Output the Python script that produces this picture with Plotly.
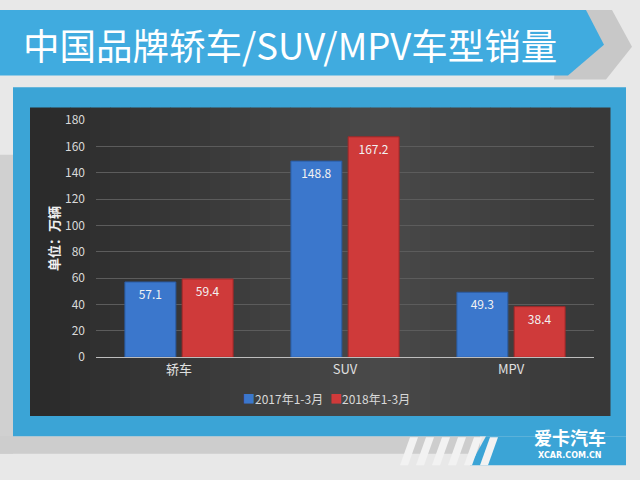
import plotly.graph_objects as go

categories = ["轿车", "SUV", "MPV"]
series_names = ["2017年1-3月", "2018年1-3月"]
sales_2017 = [57.1, 148.8, 49.3]
sales_2018 = [59.4, 167.2, 38.4]
y_ticks = [0, 20, 40, 60, 80, 100, 120, 140, 160, 180]
title_text = "中国品牌轿车/SUV/MPV车型销量"
y_title = "单位：万辆"
colors = ["#3b77cc", "#cf3a3a"]

W, H = 640, 480
def px(x): return x / W
def py(y): return 1 - y / H

FONT = "Microsoft YaHei, Noto Sans CJK SC, sans-serif"

fig = go.Figure()
for name, vals, col, edge in [(series_names[0], sales_2017, colors[0], "#2a5aa0"),
                              (series_names[1], sales_2018, colors[1], "#a02828")]:
    fig.add_trace(go.Bar(
        name=name, x=categories, y=vals,
        marker=dict(color=col, line=dict(color=edge, width=1)),
        text=[f"{v:.1f}" for v in vals], textposition="inside",
        insidetextanchor="end", textfont=dict(color="#f2f2f2", size=12, family=FONT),
        showlegend=False,
    ))

shapes = []
def rect(x0, y0, x1, y1, color, layer="below"):
    shapes.append(dict(type="rect", xref="paper", yref="paper",
                       x0=px(x0), x1=px(x1), y0=py(y1), y1=py(y0),
                       fillcolor=color, line=dict(width=0), layer=layer))
def poly(points, color, layer="below"):
    path = "M " + " L ".join(f"{px(a)},{py(b)}" for a, b in points) + " Z"
    shapes.append(dict(type="path", xref="paper", yref="paper", path=path,
                       fillcolor=color, line=dict(width=0), layer=layer))

# page background
rect(0, 0, 640, 480, "#e8e8e8")
rect(0, 150, 13, 460, "#d0d0d0")
rect(0, 442, 480, 460, "#cdcdcd")
# gray chevron behind banner
poly([(560, 0), (612, 0), (632, 38), (606, 72), (554, 72)], "#c8c8c8")
# banner
poly([(0, 0), (586, 0), (604, 36), (568, 68), (0, 68)], "#40abdf")
# blue frame
rect(13, 80, 626, 442, "#3ba4d6")
poly([(486, 442), (626, 442), (626, 472), (470, 472)], "#3ba4d6")
# stripes
for i in range(6):
    x = 400 + i * 16
    poly([(x + 10, 443), (x + 18, 443), (x + 8, 472), (x, 472)], "#f2f2f2")
# dark chart area with horizontal gradient
x0, x1 = 30, 610
n = 29
def lerp(a, b, t): return int(a + (b - a) * t)
for i in range(n):
    t = i / (n - 1)
    if t < 0.6:
        c = lerp(0x2b, 0x4a, t / 0.6)
    else:
        c = lerp(0x4a, 0x38, (t - 0.6) / 0.4)
    xa = x0 + (x1 - x0) * i / n
    xb = x0 + (x1 - x0) * (i + 1) / n + 0.5
    rect(xa, 101, xb, 421, f"rgb({c},{c},{c})")

annotations = [
    dict(text=title_text, x=px(21), y=py(36), xref="paper", yref="paper",
         xanchor="left", yanchor="middle", showarrow=False,
         font=dict(size=36.5, color="#ffffff", family=FONT)),
    dict(text="<b>爱卡汽车</b>", x=px(570), y=py(443), xref="paper", yref="paper",
         xanchor="center", yanchor="middle", showarrow=False,
         font=dict(size=18, color="#ffffff", family=FONT)),
    dict(text="<b>XCAR.COM.CN</b>", x=px(570), y=py(462), xref="paper", yref="paper",
         xanchor="center", yanchor="middle", showarrow=False,
         font=dict(size=8, color="#ffffff", family="DejaVu Sans")),
    # legend
    dict(text=f'<span style="color:{colors[0]}">■</span>{series_names[0]}',
         x=px(241), y=py(403), xref="paper", yref="paper",
         xanchor="left", yanchor="middle", showarrow=False,
         font=dict(size=12, color="#d9d9d9", family=FONT)),
    dict(text=f'<span style="color:{colors[1]}">■</span>{series_names[1]}',
         x=px(328), y=py(403), xref="paper", yref="paper",
         xanchor="left", yanchor="middle", showarrow=False,
         font=dict(size=12, color="#d9d9d9", family=FONT)),
]

fig.update_layout(
    width=W, height=H,
    margin=dict(l=0, r=0, t=0, b=0),
    paper_bgcolor="#e8e8e8",
    plot_bgcolor="rgba(0,0,0,0)",
    barmode="group", bargap=0.31, bargroupgap=0.11,
    shapes=shapes, annotations=annotations,
    font=dict(family=FONT, color="#d9d9d9"),
    showlegend=False,
    xaxis=dict(domain=[px(96), px(594)], showgrid=False, showline=True,
               linecolor="#bdbdbd", linewidth=1, ticks="",
               tickfont=dict(size=13, color="#e0e0e0", family=FONT)),
    yaxis=dict(domain=[py(360), py(114)], range=[0, 180], tickvals=y_ticks,
               showgrid=True, gridcolor="#5c5c5c", gridwidth=1, zeroline=False,
               showline=False, ticks="", ticklabelstandoff=10,
               tickfont=dict(size=12, color="#d9d9d9", family=FONT),
               title=dict(text=f"<b>{y_title}</b>", standoff=2,
                          font=dict(size=13, color="#f0f0f0", family=FONT))),
)

post = (
    "document.documentElement.style.margin='0';"
    "document.documentElement.style.padding='0';"
    "document.documentElement.style.overflow='hidden';"
    "document.body.style.margin='0';"
    "document.body.style.padding='0';"
    "document.body.style.overflow='hidden';"
    "var d=document.getElementById('{plot_id}');"
    "d.style.position='fixed';d.style.top='0px';d.style.left='0px';"
)
fig.write_html("out.html", config={"displayModeBar": False}, post_script=post)
